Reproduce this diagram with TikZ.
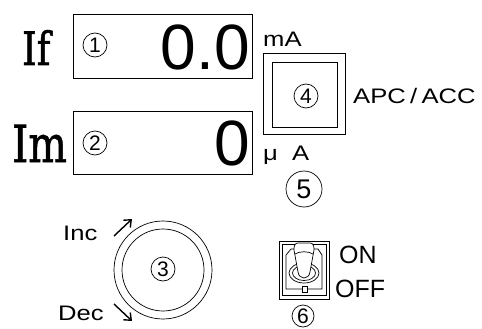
\documentclass[tikz,border=0pt]{standalone}
\usepackage{graphicx}
\usepackage{fontspec}
\usetikzlibrary{arrows.meta}
\setmainfont{Liberation Sans}
\newfontfamily\bigserif[FakeBold=1.3]{DejaVu Serif}
\newcommand{\widetext}[1]{\scalebox{1.22}[1]{#1}}
\newcommand{\narrowserif}[1]{\scalebox{0.8}[1]{#1}}
\begin{document}
\begin{tikzpicture}[x=1pt,y=-1pt,
  panel/.style={draw,line width=0.9pt},
  thin/.style={draw,line width=0.7pt},
  circnum/.style={circle,draw,line width=0.7pt,inner sep=0pt,minimum size=24pt,
    font=\fontsize{21}{21}\selectfont},
  unit/.style={inner sep=0pt,font=\fontsize{21}{21}\selectfont},
  switchtext/.style={inner sep=0pt,font=\fontsize{25}{25}\selectfont},
  readout/.style={inner sep=0pt,font=\fontsize{64}{64}\selectfont},
  meter/.style={inner sep=0pt,font=\bigserif\fontsize{46}{46}\selectfont},
  turn/.style={line width=1.4pt,-{Straight Barb[length=6pt,width=10pt,line width=1.4pt]}}]
\useasboundingbox (0,0) rectangle (482,329);

% Display windows
\draw[panel] (73,14) rectangle (252,78);
\draw[panel] (73,111) rectangle (252,174);

% Meter names
\node[meter,anchor=base west] (nameIf) at (22,65) {\narrowserif{If}};
\node[meter,anchor=base west,font=\bigserif\fontsize{51}{51}\selectfont]
  (nameIm) at (12,162) {\narrowserif{Im}};

% Readings
\node[circnum] (num1) at (95,45) {1};
\node[circnum] (num2) at (95,143) {2};
\node[readout,anchor=base east] (readIf) at (250,70) {0.0};
\node[readout,anchor=base east] (readIm) at (250,165) {0};

% Mode button
\draw[panel] (263,53) rectangle (345,134);
\draw[panel] (272,62) rectangle (337,127);
\node[circnum] (num4) at (306,96) {4};
\node[unit,anchor=base west] (unitmA) at (263,47) {\widetext{mA}};
\node[unit,anchor=base west] (unituA) at (263,160) {\widetext{μ\ \ A}};
\node[unit,anchor=base west] (modeName) at (353,103) {\widetext{APC\,/\,ACC}};
\node[circnum,minimum size=36pt,font=\fontsize{27}{27}\selectfont] (num5) at (304,189) {5};

% Knob
\draw[thin] (163,270) circle (49);
\draw[thin] (163,270) circle (41);
\node[circnum] (num3) at (163,269) {3};
\node[unit,anchor=base west] (lblInc) at (63,240) {\widetext{Inc}};
\node[unit,anchor=base west] (lblDec) at (58,320) {\widetext{Dec}};
\coordinate (incA) at (114,236);
\coordinate (incB) at (132,219);
\coordinate (decA) at (114,304);
\coordinate (decB) at (132,321);
\draw[turn] (incA) -- (incB);
\draw[turn] (decA) -- (decB);

% Toggle switch
\draw[thin] (279,241) rectangle (329,299);
\draw[thin] (282,244) rectangle (326,295);
\draw[thin] (286,289) -- (286,255) -- (291,249) -- (318,249) -- (322,255) -- (322,289) -- cycle;
\draw[thin,fill=white] (302,286) rectangle (307,292);
\draw[thin] (304,273) ellipse (15 and 10);
\draw[thin] (304,273) ellipse (11.5 and 7.5);
\draw[thin,fill=white] (294,250) .. controls (294,243) and (296,243) .. (300,243)
  -- (308,243) .. controls (312,243) and (314,243) .. (314,250)
  -- (310,272) .. controls (309,280) and (299,280) .. (298,272) -- cycle;
\draw[thin] (295,254) .. controls (300,251) and (308,251) .. (313,254);
\node[switchtext,anchor=base west] (lblOn) at (339,263) {ON};
\node[switchtext,anchor=base west] (lblOff) at (335,297) {OFF};
\node[circnum,minimum size=22pt] (num6) at (303,316) {6};
\end{tikzpicture}
\end{document}
